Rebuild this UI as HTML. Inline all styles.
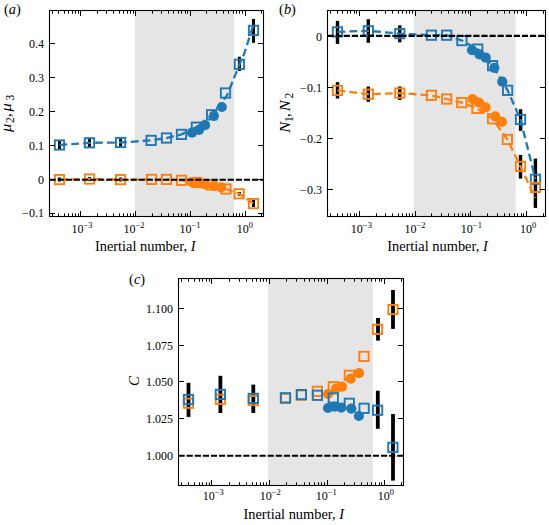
<!DOCTYPE html><html><head><meta charset="utf-8"><style>html,body{margin:0;padding:0;background:#fff;overflow:hidden}svg{display:block}</style></head><body><svg width="549" height="525" viewBox="0 0 549 525" font-family='"Liberation Serif", serif'>
<rect width="549" height="525" fill="#fff"/>
<rect x="135" y="10.5" width="99.2" height="206" fill="#e5e5e5"/>
<rect x="58" y="140.9" width="3" height="8.1" fill="#000"/>
<rect x="88" y="138.7" width="3" height="8.5" fill="#000"/>
<rect x="119.1" y="138.5" width="3" height="8" fill="#000"/>
<rect x="237.9" y="56.7" width="3" height="14.3" fill="#000"/>
<rect x="252" y="18.9" width="3" height="23.9" fill="#000"/>
<rect x="58" y="177.5" width="3" height="4" fill="#000"/>
<rect x="88" y="177" width="3" height="4" fill="#000"/>
<rect x="119.1" y="177.5" width="3" height="4" fill="#000"/>
<rect x="237.9" y="191.9" width="3" height="3.8" fill="#000"/>
<rect x="252" y="200" width="3" height="7" fill="#000"/>
<path d="M59.5 179.6L89.5 179L120.6 179.6L151.5 179.4L166.4 179.4L181.5 180.3L196.7 182.5L211.6 185L225.9 189L239.2 193.8L253.5 203.6" stroke="#ff7f0e" stroke-width="2.3" fill="none" stroke-dasharray="7.8 4.1"/>
<rect x="54.85" y="174.95" width="9.3" height="9.3" stroke="#ff7f0e" stroke-width="1.9" fill="none"/>
<rect x="84.85" y="174.35" width="9.3" height="9.3" stroke="#ff7f0e" stroke-width="1.9" fill="none"/>
<rect x="115.95" y="174.95" width="9.3" height="9.3" stroke="#ff7f0e" stroke-width="1.9" fill="none"/>
<rect x="146.85" y="174.75" width="9.3" height="9.3" stroke="#ff7f0e" stroke-width="1.9" fill="none"/>
<rect x="161.75" y="174.75" width="9.3" height="9.3" stroke="#ff7f0e" stroke-width="1.9" fill="none"/>
<rect x="176.85" y="175.65" width="9.3" height="9.3" stroke="#ff7f0e" stroke-width="1.9" fill="none"/>
<rect x="192.05" y="177.85" width="9.3" height="9.3" stroke="#ff7f0e" stroke-width="1.9" fill="none"/>
<rect x="206.95" y="180.35" width="9.3" height="9.3" stroke="#ff7f0e" stroke-width="1.9" fill="none"/>
<rect x="221.25" y="184.35" width="9.3" height="9.3" stroke="#ff7f0e" stroke-width="1.9" fill="none"/>
<rect x="234.55" y="189.15" width="9.3" height="9.3" stroke="#ff7f0e" stroke-width="1.9" fill="none"/>
<rect x="248.85" y="198.95" width="9.3" height="9.3" stroke="#ff7f0e" stroke-width="1.9" fill="none"/>
<circle cx="191.8" cy="182" r="5.1" fill="#ff7f0e"/>
<circle cx="199" cy="182.8" r="5.1" fill="#ff7f0e"/>
<circle cx="205" cy="184.4" r="5.1" fill="#ff7f0e"/>
<circle cx="213.7" cy="186" r="5.1" fill="#ff7f0e"/>
<circle cx="221.2" cy="187.4" r="5.1" fill="#ff7f0e"/>
<path d="M59.5 145L89.5 142.8L120.6 142.5L151.1 140.4L166.5 138L181.5 134.4L196.4 127.2L211.8 115L227 95.5L239.4 64.5L244 54.3L254.2 22.5" stroke="#1f77b4" stroke-width="2.3" fill="none" stroke-dasharray="7.8 4.1"/>
<rect x="54.85" y="140.35" width="9.3" height="9.3" stroke="#1f77b4" stroke-width="1.9" fill="none"/>
<rect x="84.85" y="138.15" width="9.3" height="9.3" stroke="#1f77b4" stroke-width="1.9" fill="none"/>
<rect x="115.95" y="137.85" width="9.3" height="9.3" stroke="#1f77b4" stroke-width="1.9" fill="none"/>
<rect x="146.45" y="135.75" width="9.3" height="9.3" stroke="#1f77b4" stroke-width="1.9" fill="none"/>
<rect x="161.85" y="133.35" width="9.3" height="9.3" stroke="#1f77b4" stroke-width="1.9" fill="none"/>
<rect x="176.85" y="129.75" width="9.3" height="9.3" stroke="#1f77b4" stroke-width="1.9" fill="none"/>
<rect x="191.75" y="122.55" width="9.3" height="9.3" stroke="#1f77b4" stroke-width="1.9" fill="none"/>
<rect x="206.95" y="110.15" width="9.3" height="9.3" stroke="#1f77b4" stroke-width="1.9" fill="none"/>
<rect x="220.85" y="88.35" width="9.3" height="9.3" stroke="#1f77b4" stroke-width="1.9" fill="none"/>
<rect x="234.75" y="59.65" width="9.3" height="9.3" stroke="#1f77b4" stroke-width="1.9" fill="none"/>
<rect x="248.85" y="25.75" width="9.3" height="9.3" stroke="#1f77b4" stroke-width="1.9" fill="none"/>
<circle cx="192" cy="132.7" r="5.1" fill="#1f77b4"/>
<circle cx="199.1" cy="129.8" r="5.1" fill="#1f77b4"/>
<circle cx="205.1" cy="125.1" r="5.1" fill="#1f77b4"/>
<circle cx="213.9" cy="115.8" r="5.1" fill="#1f77b4"/>
<circle cx="221.8" cy="107" r="5.1" fill="#1f77b4"/>
<path d="M49.5 179.75H263.5" stroke="#000" stroke-width="2.1" stroke-dasharray="6.2 1.9"/>
<path d="M52.5 216.5v-3.2M52.5 10.5v3.2M58.5 216.5v-3.2M58.5 10.5v3.2M64.5 216.5v-3.2M64.5 10.5v3.2M68.5 216.5v-3.2M68.5 10.5v3.2M72.5 216.5v-3.2M72.5 10.5v3.2M75.5 216.5v-3.2M75.5 10.5v3.2M78.5 216.5v-3.2M78.5 10.5v3.2M80.5 216.5v-5.5M80.5 10.5v5.5M97.5 216.5v-3.2M97.5 10.5v3.2M106.5 216.5v-3.2M106.5 10.5v3.2M113.5 216.5v-3.2M113.5 10.5v3.2M119.5 216.5v-3.2M119.5 10.5v3.2M123.5 216.5v-3.2M123.5 10.5v3.2M127.5 216.5v-3.2M127.5 10.5v3.2M130.5 216.5v-3.2M130.5 10.5v3.2M133.5 216.5v-3.2M133.5 10.5v3.2M135.5 216.5v-5.5M135.5 10.5v5.5M152.5 216.5v-3.2M152.5 10.5v3.2M161.5 216.5v-3.2M161.5 10.5v3.2M168.5 216.5v-3.2M168.5 10.5v3.2M173.5 216.5v-3.2M173.5 10.5v3.2M178.5 216.5v-3.2M178.5 10.5v3.2M181.5 216.5v-3.2M181.5 10.5v3.2M185.5 216.5v-3.2M185.5 10.5v3.2M187.5 216.5v-3.2M187.5 10.5v3.2M190.5 216.5v-5.5M190.5 10.5v5.5M206.5 216.5v-3.2M206.5 10.5v3.2M216.5 216.5v-3.2M216.5 10.5v3.2M223.5 216.5v-3.2M223.5 10.5v3.2M228.5 216.5v-3.2M228.5 10.5v3.2M233.5 216.5v-3.2M233.5 10.5v3.2M236.5 216.5v-3.2M236.5 10.5v3.2M239.5 216.5v-3.2M239.5 10.5v3.2M242.5 216.5v-3.2M242.5 10.5v3.2M245.5 216.5v-5.5M245.5 10.5v5.5M261.5 216.5v-3.2M261.5 10.5v3.2M49.5 43.5h5.5M263.5 43.5h-5.5M49.5 77.5h5.5M263.5 77.5h-5.5M49.5 111.5h5.5M263.5 111.5h-5.5M49.5 145.5h5.5M263.5 145.5h-5.5M49.5 179.5h5.5M263.5 179.5h-5.5M49.5 213.5h5.5M263.5 213.5h-5.5" stroke="#000" stroke-width="1" fill="none"/>
<rect x="49.5" y="10.5" width="214" height="206" stroke="#000" stroke-width="1.1" fill="none"/>
<text x="43.9" y="47.8" text-anchor="end" font-size="12">0.4</text>
<text x="43.9" y="81.9" text-anchor="end" font-size="12">0.3</text>
<text x="43.9" y="116" text-anchor="end" font-size="12">0.2</text>
<text x="43.9" y="150.1" text-anchor="end" font-size="12">0.1</text>
<text x="43.9" y="184.2" text-anchor="end" font-size="12">0</text>
<text x="43.9" y="216.9" text-anchor="end" font-size="12">−0.1</text>
<text x="71.45" y="232.5" font-size="12">10<tspan font-size="8.5" dy="-4.9">−3</tspan></text>
<text x="123.45" y="232.5" font-size="12">10<tspan font-size="8.5" dy="-4.9">−2</tspan></text>
<text x="179.45" y="232.5" font-size="12">10<tspan font-size="8.5" dy="-4.9">−1</tspan></text>
<text x="236.75" y="232.5" font-size="12">10<tspan font-size="8.5" dy="-4.9">0</tspan></text>
<text x="94.9" y="250.8" font-size="14.4">Inertial number, <tspan font-style="italic">I</tspan></text>
<text x="3.9" y="13.6" font-size="14.4">(<tspan font-style="italic">a</tspan>)</text>
<g transform="translate(11.3 132) rotate(-90)" font-size="15"><text x="0" y="0" font-style="italic" textLength="8.3" lengthAdjust="spacingAndGlyphs">μ</text><text x="9" y="2.4" font-size="11.5">2</text><text x="15" y="0">,</text><text x="20.6" y="0" font-style="italic" textLength="8.3" lengthAdjust="spacingAndGlyphs">μ</text><text x="31.5" y="2.4" font-size="11.5">3</text></g>
<rect x="413.9" y="10.5" width="101.8" height="206" fill="#e5e5e5"/>
<rect x="335.8" y="20.9" width="3.4" height="23" fill="#000"/>
<rect x="366.6" y="19.2" width="3.4" height="23.6" fill="#000"/>
<rect x="398.1" y="25.3" width="3.4" height="17" fill="#000"/>
<rect x="518.9" y="109.2" width="3.4" height="21.7" fill="#000"/>
<rect x="533.7" y="158.6" width="3.4" height="49.3" fill="#000"/>
<rect x="335.8" y="82.1" width="3.4" height="16.4" fill="#000"/>
<rect x="366.6" y="86.5" width="3.4" height="15.3" fill="#000"/>
<rect x="398.1" y="86.5" width="3.4" height="13.5" fill="#000"/>
<rect x="518.8" y="155" width="3.4" height="23.6" fill="#000"/>
<path d="M337.5 31.9L368.3 30.8L399.8 33.6L431.4 35.2L446.7 35.2L461.9 40.6L477.7 49.1L492.6 65.7L507.6 90.3L520.5 119.5L535.5 179.3" stroke="#1f77b4" stroke-width="2.3" fill="none" stroke-dasharray="7.8 4.1"/>
<rect x="332.85" y="27.25" width="9.3" height="9.3" stroke="#1f77b4" stroke-width="1.9" fill="none"/>
<rect x="363.65" y="26.15" width="9.3" height="9.3" stroke="#1f77b4" stroke-width="1.9" fill="none"/>
<rect x="395.15" y="28.95" width="9.3" height="9.3" stroke="#1f77b4" stroke-width="1.9" fill="none"/>
<rect x="426.75" y="30.55" width="9.3" height="9.3" stroke="#1f77b4" stroke-width="1.9" fill="none"/>
<rect x="442.05" y="30.55" width="9.3" height="9.3" stroke="#1f77b4" stroke-width="1.9" fill="none"/>
<rect x="457.25" y="35.95" width="9.3" height="9.3" stroke="#1f77b4" stroke-width="1.9" fill="none"/>
<rect x="473.05" y="44.45" width="9.3" height="9.3" stroke="#1f77b4" stroke-width="1.9" fill="none"/>
<rect x="487.95" y="61.05" width="9.3" height="9.3" stroke="#1f77b4" stroke-width="1.9" fill="none"/>
<rect x="502.95" y="85.65" width="9.3" height="9.3" stroke="#1f77b4" stroke-width="1.9" fill="none"/>
<rect x="515.85" y="114.85" width="9.3" height="9.3" stroke="#1f77b4" stroke-width="1.9" fill="none"/>
<rect x="530.85" y="174.65" width="9.3" height="9.3" stroke="#1f77b4" stroke-width="1.9" fill="none"/>
<circle cx="472" cy="50.1" r="5.1" fill="#1f77b4"/>
<circle cx="479.4" cy="54.3" r="5.1" fill="#1f77b4"/>
<circle cx="485.7" cy="57.7" r="5.1" fill="#1f77b4"/>
<circle cx="494.3" cy="67.8" r="5.1" fill="#1f77b4"/>
<circle cx="502.3" cy="81.7" r="5.1" fill="#1f77b4"/>
<path d="M337.5 90.4L368.3 94.2L399.8 93.1L431.4 95.3L446.7 99L461.8 102.6L476.9 108.4L492.6 118.8L507.4 139.4L520.5 166.4L535.3 198" stroke="#ff7f0e" stroke-width="2.3" fill="none" stroke-dasharray="7.8 4.1"/>
<rect x="332.85" y="85.75" width="9.3" height="9.3" stroke="#ff7f0e" stroke-width="1.9" fill="none"/>
<rect x="363.65" y="89.55" width="9.3" height="9.3" stroke="#ff7f0e" stroke-width="1.9" fill="none"/>
<rect x="395.15" y="88.45" width="9.3" height="9.3" stroke="#ff7f0e" stroke-width="1.9" fill="none"/>
<rect x="426.75" y="90.65" width="9.3" height="9.3" stroke="#ff7f0e" stroke-width="1.9" fill="none"/>
<rect x="442.05" y="94.35" width="9.3" height="9.3" stroke="#ff7f0e" stroke-width="1.9" fill="none"/>
<rect x="457.15" y="97.95" width="9.3" height="9.3" stroke="#ff7f0e" stroke-width="1.9" fill="none"/>
<rect x="472.25" y="103.75" width="9.3" height="9.3" stroke="#ff7f0e" stroke-width="1.9" fill="none"/>
<rect x="487.95" y="114.15" width="9.3" height="9.3" stroke="#ff7f0e" stroke-width="1.9" fill="none"/>
<rect x="502.75" y="134.75" width="9.3" height="9.3" stroke="#ff7f0e" stroke-width="1.9" fill="none"/>
<rect x="515.85" y="161.75" width="9.3" height="9.3" stroke="#ff7f0e" stroke-width="1.9" fill="none"/>
<rect x="530.85" y="182.75" width="9.3" height="9.3" stroke="#ff7f0e" stroke-width="1.9" fill="none"/>
<circle cx="472.5" cy="99" r="5.1" fill="#ff7f0e"/>
<circle cx="479" cy="102.6" r="5.1" fill="#ff7f0e"/>
<circle cx="485.6" cy="107.4" r="5.1" fill="#ff7f0e"/>
<circle cx="495.3" cy="116.4" r="5.1" fill="#ff7f0e"/>
<circle cx="501.9" cy="121.9" r="5.1" fill="#ff7f0e"/>
<path d="M327.5 35.9H545.5" stroke="#000" stroke-width="2.1" stroke-dasharray="6.2 1.9"/>
<path d="M330.5 216.5v-3.2M330.5 10.5v3.2M337.5 216.5v-3.2M337.5 10.5v3.2M342.5 216.5v-3.2M342.5 10.5v3.2M347.5 216.5v-3.2M347.5 10.5v3.2M350.5 216.5v-3.2M350.5 10.5v3.2M354.5 216.5v-3.2M354.5 10.5v3.2M356.5 216.5v-3.2M356.5 10.5v3.2M359.5 216.5v-5.5M359.5 10.5v5.5M376.5 216.5v-3.2M376.5 10.5v3.2M385.5 216.5v-3.2M385.5 10.5v3.2M392.5 216.5v-3.2M392.5 10.5v3.2M398.5 216.5v-3.2M398.5 10.5v3.2M402.5 216.5v-3.2M402.5 10.5v3.2M406.5 216.5v-3.2M406.5 10.5v3.2M409.5 216.5v-3.2M409.5 10.5v3.2M412.5 216.5v-3.2M412.5 10.5v3.2M415.5 216.5v-5.5M415.5 10.5v5.5M431.5 216.5v-3.2M431.5 10.5v3.2M441.5 216.5v-3.2M441.5 10.5v3.2M448.5 216.5v-3.2M448.5 10.5v3.2M454.5 216.5v-3.2M454.5 10.5v3.2M458.5 216.5v-3.2M458.5 10.5v3.2M462.5 216.5v-3.2M462.5 10.5v3.2M465.5 216.5v-3.2M465.5 10.5v3.2M468.5 216.5v-3.2M468.5 10.5v3.2M470.5 216.5v-5.5M470.5 10.5v5.5M487.5 216.5v-3.2M487.5 10.5v3.2M497.5 216.5v-3.2M497.5 10.5v3.2M504.5 216.5v-3.2M504.5 10.5v3.2M509.5 216.5v-3.2M509.5 10.5v3.2M514.5 216.5v-3.2M514.5 10.5v3.2M517.5 216.5v-3.2M517.5 10.5v3.2M521.5 216.5v-3.2M521.5 10.5v3.2M523.5 216.5v-3.2M523.5 10.5v3.2M526.5 216.5v-5.5M526.5 10.5v5.5M543.5 216.5v-3.2M543.5 10.5v3.2M327.5 36.5h5.5M545.5 36.5h-5.5M327.5 87.5h5.5M545.5 87.5h-5.5M327.5 138.5h5.5M545.5 138.5h-5.5M327.5 189.5h5.5M545.5 189.5h-5.5" stroke="#000" stroke-width="1" fill="none"/>
<rect x="327.5" y="10.5" width="218" height="206" stroke="#000" stroke-width="1.1" fill="none"/>
<text x="321.9" y="40.9" text-anchor="end" font-size="12">0</text>
<text x="321.9" y="91.7" text-anchor="end" font-size="12">−0.1</text>
<text x="321.9" y="142.8" text-anchor="end" font-size="12">−0.2</text>
<text x="321.9" y="193.9" text-anchor="end" font-size="12">−0.3</text>
<text x="350.85" y="232.5" font-size="12">10<tspan font-size="8.5" dy="-4.9">−3</tspan></text>
<text x="404.55" y="232.5" font-size="12">10<tspan font-size="8.5" dy="-4.9">−2</tspan></text>
<text x="460.85" y="232.5" font-size="12">10<tspan font-size="8.5" dy="-4.9">−1</tspan></text>
<text x="520.05" y="232.5" font-size="12">10<tspan font-size="8.5" dy="-4.9">0</tspan></text>
<text x="387.2" y="250.8" font-size="14.4">Inertial number, <tspan font-style="italic">I</tspan></text>
<text x="279.1" y="13.5" font-size="14.4">(<tspan font-style="italic">b</tspan>)</text>
<g transform="translate(290.4 133.2) rotate(-90)" font-size="15"><text x="0.5" y="0" font-style="italic" textLength="11" lengthAdjust="spacingAndGlyphs">N</text><text x="11.3" y="2.6" font-size="11.5">1</text><text x="16.3" y="0">,</text><text x="22" y="0" font-style="italic" textLength="11" lengthAdjust="spacingAndGlyphs">N</text><text x="34.8" y="2.4" font-size="11.5">2</text></g>
<rect x="268" y="278.5" width="104.8" height="207" fill="#e5e5e5"/>
<rect x="186.6" y="382.8" width="3.8" height="34.1" fill="#000"/>
<rect x="218.5" y="375.8" width="3.8" height="37.2" fill="#000"/>
<rect x="251.4" y="384.6" width="3.8" height="28.4" fill="#000"/>
<rect x="376.1" y="318" width="3.8" height="22.6" fill="#000"/>
<rect x="375.9" y="390.7" width="3.8" height="38.1" fill="#000"/>
<rect x="391.1" y="290" width="3.8" height="38.9" fill="#000"/>
<rect x="391.1" y="414" width="3.8" height="66.6" fill="#000"/>
<rect x="183.85" y="398.55" width="9.3" height="9.3" stroke="#ff7f0e" stroke-width="1.9" fill="none"/>
<rect x="215.75" y="394.65" width="9.3" height="9.3" stroke="#ff7f0e" stroke-width="1.9" fill="none"/>
<rect x="248.65" y="395.95" width="9.3" height="9.3" stroke="#ff7f0e" stroke-width="1.9" fill="none"/>
<rect x="280.85" y="393.75" width="9.3" height="9.3" stroke="#ff7f0e" stroke-width="1.9" fill="none"/>
<rect x="296.75" y="390.45" width="9.3" height="9.3" stroke="#ff7f0e" stroke-width="1.9" fill="none"/>
<rect x="312.75" y="386.65" width="9.3" height="9.3" stroke="#ff7f0e" stroke-width="1.9" fill="none"/>
<rect x="328.65" y="382.05" width="9.3" height="9.3" stroke="#ff7f0e" stroke-width="1.9" fill="none"/>
<rect x="344.65" y="370.65" width="9.3" height="9.3" stroke="#ff7f0e" stroke-width="1.9" fill="none"/>
<rect x="359.35" y="351.75" width="9.3" height="9.3" stroke="#ff7f0e" stroke-width="1.9" fill="none"/>
<rect x="372.85" y="324.65" width="9.3" height="9.3" stroke="#ff7f0e" stroke-width="1.9" fill="none"/>
<rect x="388.35" y="304.85" width="9.3" height="9.3" stroke="#ff7f0e" stroke-width="1.9" fill="none"/>
<circle cx="328" cy="394" r="5.1" fill="#ff7f0e"/>
<circle cx="336" cy="388.7" r="5.1" fill="#ff7f0e"/>
<circle cx="342" cy="386.7" r="5.1" fill="#ff7f0e"/>
<circle cx="350.7" cy="378.7" r="5.1" fill="#ff7f0e"/>
<circle cx="359" cy="373.1" r="5.1" fill="#ff7f0e"/>
<rect x="183.85" y="394.85" width="9.3" height="9.3" stroke="#1f77b4" stroke-width="1.9" fill="none"/>
<rect x="215.75" y="389.75" width="9.3" height="9.3" stroke="#1f77b4" stroke-width="1.9" fill="none"/>
<rect x="248.65" y="393.75" width="9.3" height="9.3" stroke="#1f77b4" stroke-width="1.9" fill="none"/>
<rect x="280.85" y="393.15" width="9.3" height="9.3" stroke="#1f77b4" stroke-width="1.9" fill="none"/>
<rect x="296.75" y="389.95" width="9.3" height="9.3" stroke="#1f77b4" stroke-width="1.9" fill="none"/>
<rect x="312.75" y="390.65" width="9.3" height="9.3" stroke="#1f77b4" stroke-width="1.9" fill="none"/>
<rect x="328.65" y="393.35" width="9.3" height="9.3" stroke="#1f77b4" stroke-width="1.9" fill="none"/>
<rect x="344.65" y="398.65" width="9.3" height="9.3" stroke="#1f77b4" stroke-width="1.9" fill="none"/>
<rect x="359.45" y="403.65" width="9.3" height="9.3" stroke="#1f77b4" stroke-width="1.9" fill="none"/>
<rect x="372.95" y="405.55" width="9.3" height="9.3" stroke="#1f77b4" stroke-width="1.9" fill="none"/>
<rect x="388.25" y="442.75" width="9.3" height="9.3" stroke="#1f77b4" stroke-width="1.9" fill="none"/>
<circle cx="328" cy="408" r="5.1" fill="#1f77b4"/>
<circle cx="334.7" cy="406.7" r="5.1" fill="#1f77b4"/>
<circle cx="341.3" cy="407.6" r="5.1" fill="#1f77b4"/>
<circle cx="351.3" cy="408.7" r="5.1" fill="#1f77b4"/>
<circle cx="358.9" cy="416" r="5.1" fill="#1f77b4"/>
<path d="M178.5 455.8H403.5" stroke="#000" stroke-width="2.1" stroke-dasharray="6.2 1.9"/>
<path d="M181.5 485.5v-3.2M181.5 278.5v3.2M188.5 485.5v-3.2M188.5 278.5v3.2M194.5 485.5v-3.2M194.5 278.5v3.2M199.5 485.5v-3.2M199.5 278.5v3.2M202.5 485.5v-3.2M202.5 278.5v3.2M206.5 485.5v-3.2M206.5 278.5v3.2M209.5 485.5v-3.2M209.5 278.5v3.2M211.5 485.5v-5.5M211.5 278.5v5.5M229.5 485.5v-3.2M229.5 278.5v3.2M239.5 485.5v-3.2M239.5 278.5v3.2M246.5 485.5v-3.2M246.5 278.5v3.2M252.5 485.5v-3.2M252.5 278.5v3.2M256.5 485.5v-3.2M256.5 278.5v3.2M260.5 485.5v-3.2M260.5 278.5v3.2M263.5 485.5v-3.2M263.5 278.5v3.2M266.5 485.5v-3.2M266.5 278.5v3.2M269.5 485.5v-5.5M269.5 278.5v5.5M286.5 485.5v-3.2M286.5 278.5v3.2M296.5 485.5v-3.2M296.5 278.5v3.2M304.5 485.5v-3.2M304.5 278.5v3.2M309.5 485.5v-3.2M309.5 278.5v3.2M314.5 485.5v-3.2M314.5 278.5v3.2M318.5 485.5v-3.2M318.5 278.5v3.2M321.5 485.5v-3.2M321.5 278.5v3.2M324.5 485.5v-3.2M324.5 278.5v3.2M327.5 485.5v-5.5M327.5 278.5v5.5M344.5 485.5v-3.2M344.5 278.5v3.2M354.5 485.5v-3.2M354.5 278.5v3.2M361.5 485.5v-3.2M361.5 278.5v3.2M367.5 485.5v-3.2M367.5 278.5v3.2M371.5 485.5v-3.2M371.5 278.5v3.2M375.5 485.5v-3.2M375.5 278.5v3.2M379.5 485.5v-3.2M379.5 278.5v3.2M381.5 485.5v-3.2M381.5 278.5v3.2M384.5 485.5v-5.5M384.5 278.5v5.5M401.5 485.5v-3.2M401.5 278.5v3.2M178.5 308.5h5.5M403.5 308.5h-5.5M178.5 345.5h5.5M403.5 345.5h-5.5M178.5 381.5h5.5M403.5 381.5h-5.5M178.5 418.5h5.5M403.5 418.5h-5.5M178.5 455.5h5.5M403.5 455.5h-5.5" stroke="#000" stroke-width="1" fill="none"/>
<rect x="178.5" y="278.5" width="225" height="207" stroke="#000" stroke-width="1.1" fill="none"/>
<text x="172.9" y="312.94" text-anchor="end" font-size="12">1.100</text>
<text x="172.9" y="349.68" text-anchor="end" font-size="12">1.075</text>
<text x="172.9" y="386.42" text-anchor="end" font-size="12">1.050</text>
<text x="172.9" y="423.16" text-anchor="end" font-size="12">1.025</text>
<text x="172.9" y="459.9" text-anchor="end" font-size="12">1.000</text>
<text x="202.65" y="500.2" font-size="12">10<tspan font-size="8.5" dy="-4.9">−3</tspan></text>
<text x="259.65" y="500.2" font-size="12">10<tspan font-size="8.5" dy="-4.9">−2</tspan></text>
<text x="315.75" y="500.2" font-size="12">10<tspan font-size="8.5" dy="-4.9">−1</tspan></text>
<text x="377.65" y="500.2" font-size="12">10<tspan font-size="8.5" dy="-4.9">0</tspan></text>
<text x="243.5" y="518.6" font-size="14.4">Inertial number, <tspan font-style="italic">I</tspan></text>
<text x="129.1" y="284" font-size="14.4">(<tspan font-style="italic">c</tspan>)</text>
<text transform="translate(138.9 381.1) rotate(-90)" text-anchor="middle" font-size="15" font-style="italic">C</text>
</svg></body></html>
